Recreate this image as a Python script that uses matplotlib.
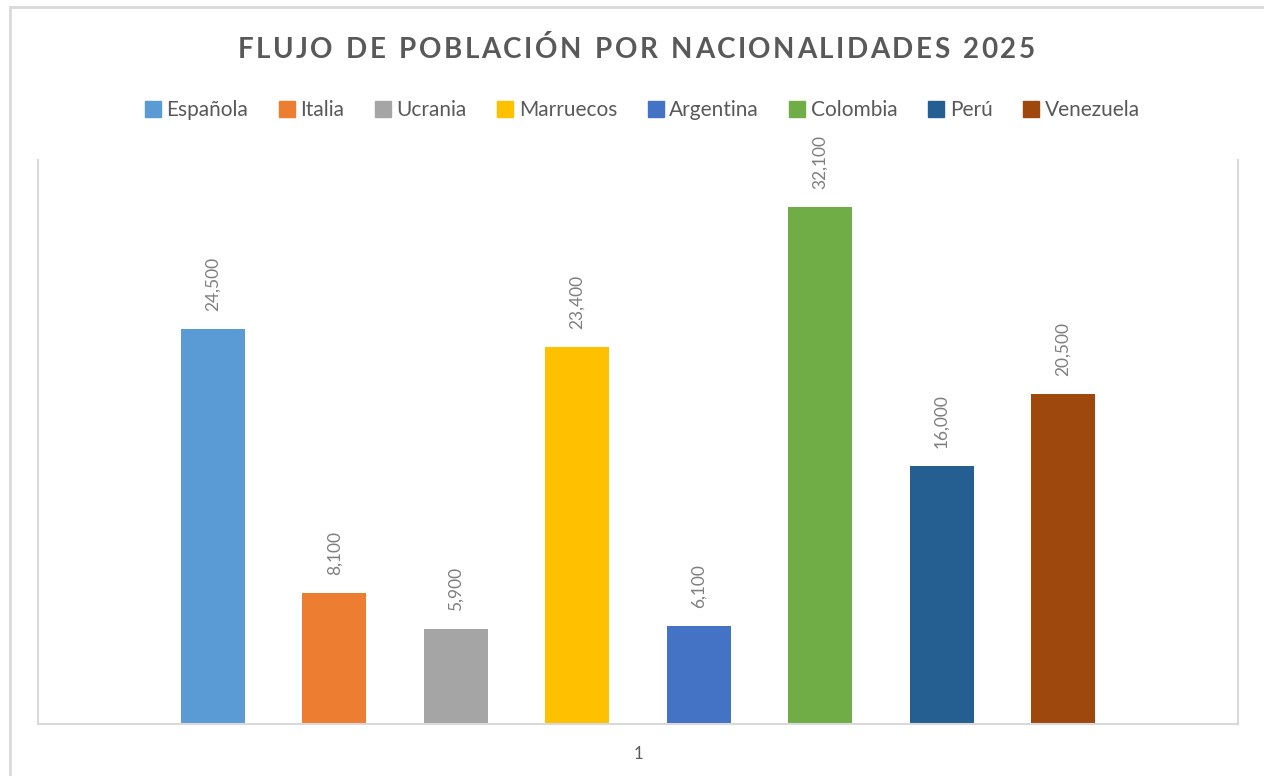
import matplotlib.pyplot as plt
from matplotlib.patches import Rectangle
from matplotlib.lines import Line2D

nacionalidades = ["Española", "Italia", "Ucrania", "Marruecos", "Argentina", "Colombia", "Perú", "Venezuela"]
valores = [24500, 8100, 5900, 23400, 6100, 32100, 16000, 20500]
colores = ["#5B9BD5", "#ED7D31", "#A5A5A5", "#FFC000", "#4472C4", "#70AD47", "#255E91", "#9E480E"]
categoria = "1"
titulo = "FLUJO DE POBLACIÓN POR NACIONALIDADES 2025"

plt.rcParams['font.family'] = ['Lato', 'DejaVu Sans']

fig = plt.figure(figsize=(12.64, 7.76), dpi=100)
ax = fig.add_axes([38/1264, 1 - 724/776, 1200/1264, 564/776])

# outer chart border (Excel style)
fig.patches.append(Rectangle((10/1264, -0.05), 1.2, 1 - 7/776 + 0.05, transform=fig.transFigure,
                             fill=False, edgecolor="#D9D9D9", linewidth=2))

paso = 0.1012
ancho = 0.0533
for i, (nom, val, col) in enumerate(zip(nacionalidades, valores, colores)):
    x = (i - 3.5) * paso
    ax.bar(x, val, width=ancho, color=col, label=nom)
    ax.annotate(f"{val:,}", (x, val), xytext=(0, 13), textcoords="offset points",
                rotation=90, ha="center", va="bottom", fontsize=12.5, color="#7F7F7F")

ax.set_xlim(-0.5, 0.5)
ax.set_ylim(0, 35000)
ax.set_xticks([0])
ax.set_xticklabels([categoria], fontsize=12, color="#595959")
ax.tick_params(axis="x", length=0, pad=16)
ax.set_yticks([])
ax.spines["top"].set_visible(False)
for s in ["left", "right", "bottom"]:
    ax.spines[s].set_color("#D9D9D9")
    ax.spines[s].set_linewidth(1.5)

# title with letter spacing: place characters one by one
fig.canvas.draw()
r = fig.canvas.get_renderer()
props = dict(fontsize=20, fontweight="bold", color="#595959", va="center", ha="left")
extra = 2.5  # px between letters
anchos = []
for ch in titulo:
    t = fig.text(0, 0, ch if ch != " " else "n", **props)
    anchos.append(t.get_window_extent(r).width * (0.55 if ch == " " else 1.0))
    t.remove()
total = sum(anchos) + extra * (len(titulo) - 1)
x0 = 636 - total / 2
for ch, w in zip(titulo, anchos):
    if ch != " ":
        fig.text(x0 / 1264, 1 - 50/776, ch, **props)
    x0 += w + extra

handles = [Line2D([], [], marker="s", linestyle="", markersize=11, color=c) for c in colores]
fig.legend(handles, nacionalidades, loc="center", bbox_to_anchor=(642/1264, 1 - 110/776), ncol=8,
           frameon=False, fontsize=15, handlelength=0.8, handletextpad=0.25, columnspacing=1.45,
           labelcolor="#595959")

fig.savefig("out.png", dpi=100)
